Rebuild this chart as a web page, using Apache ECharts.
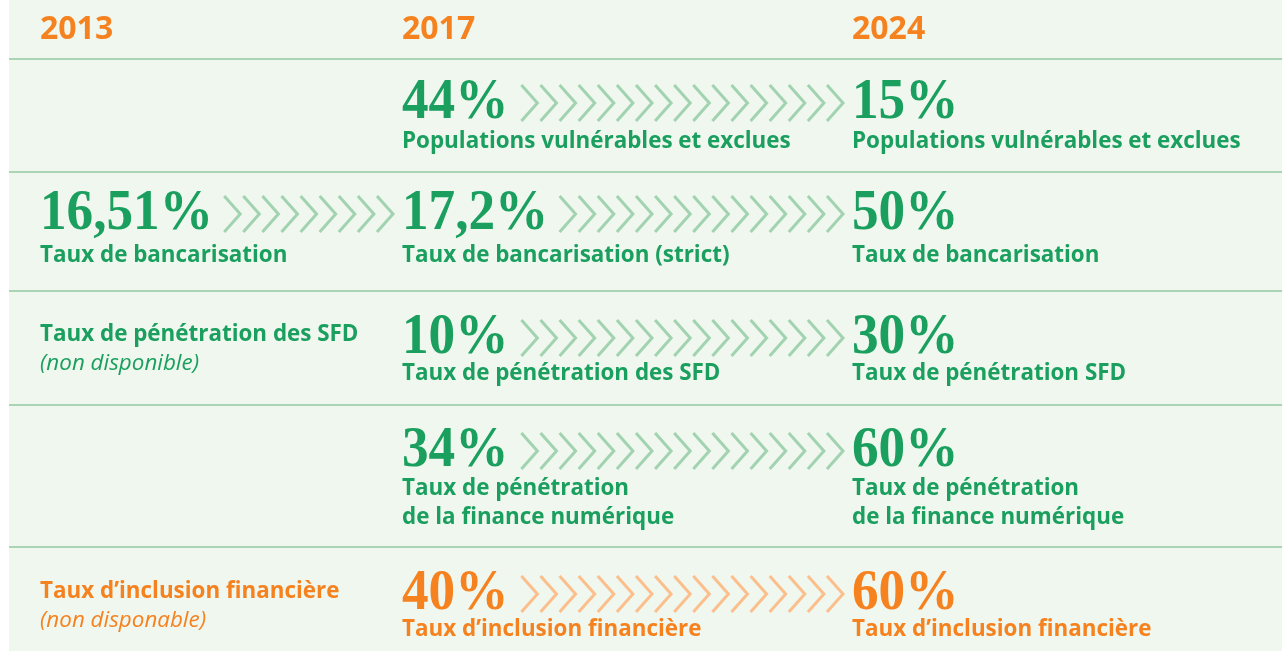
<!DOCTYPE html>
<html>
<head>
<meta charset="utf-8">
<script src="https://cdn.jsdelivr.net/npm/echarts@6/dist/echarts.min.js"></script>
<style>
html,body{margin:0;padding:0;background:#ffffff;}
#chart{width:1282px;height:653px;}
</style>
</head>
<body>
<div id="chart"></div>
<script>
// ---------- data ----------
const years = ['2013', '2017', '2024'];
const values2013 = [null, 16.51, null, null, null];
const values2017 = [44, 17.2, 10, 34, 40];
const values2024 = [15, 50, 30, 60, 60];
const labels2013 = [null, 'Taux de bancarisation', 'Taux de pénétration des SFD', null, 'Taux d’inclusion financière'];
const notes2013 = [null, null, '(non disponible)', null, '(non disponable)'];
const labels2017 = ['Populations vulnérables et exclues', 'Taux de bancarisation (strict)', 'Taux de pénétration des SFD', 'Taux de pénétration\nde la finance numérique', 'Taux d’inclusion financière'];
const labels2024 = ['Populations vulnérables et exclues', 'Taux de bancarisation', 'Taux de pénétration SFD', 'Taux de pénétration\nde la finance numérique', 'Taux d’inclusion financière'];
const rowHighlight = [false, false, false, false, true];
// arrows: [row, fromColumn, toColumn]
const arrows = [[0, 1, 2], [1, 0, 1], [1, 1, 2], [2, 1, 2], [3, 1, 2], [4, 1, 2]];

// ---------- layout ----------
const W = 1282, H = 653;
const colX = [40, 402, 852];
const headerY = 30;
const dividerY = [59, 172, 291, 405, 547];
const rowNumY = [104, 215, 339, 452, 595];
const rowLabelY = [142, 256, 374, 489, 630];
const rowOnlyY = [142, 256, 335, 489, 592];
const lineGap = 29;
const GREEN = '#1a9f5e', ORANGE = '#f5821f';
const GREEN_CH = '#a2d3b1', ORANGE_CH = '#fcbf8c';
const NUM_FONT = 'bold 56px "Liberation Serif", "DejaVu Serif", serif';
const NUM_SCALE = 0.95;
const LAB_FONT = 'bold 22.4px "Open Sans", "Noto Sans", sans-serif';
const NOTE_FONT = 'italic 22.4px "Open Sans", "Noto Sans", sans-serif';
const HEAD_FONT = 'bold 32px "Open Sans", "Noto Sans", sans-serif';

const valuesByCol = [values2013, values2017, values2024];
const labelsByCol = [labels2013, labels2017, labels2024];
function fmt(v) { return String(v).replace('.', ',') + '%'; }

const mctx = document.createElement('canvas').getContext('2d');
function numWidth(v) { mctx.font = NUM_FONT; return mctx.measureText(fmt(v)).width * NUM_SCALE; }

// cells
const cells = [];
for (let r = 0; r < values2017.length; r++) {
  for (let c = 0; c < 3; c++) {
    const v = valuesByCol[c][r];
    const l = labelsByCol[c][r];
    const n = c === 0 ? notes2013[r] : null;
    if (v == null && l == null) continue;
    cells.push({ value: [c, r], v: v, l: l, n: n });
  }
}

const chart = echarts.init(document.getElementById('chart'), null, { renderer: 'canvas' });

const option = {
  animation: false,
  backgroundColor: '#ffffff',
  grid: { left: 0, right: 0, top: 0, bottom: 0 },
  xAxis: { type: 'value', min: 0, max: W, show: false },
  yAxis: { type: 'value', min: 0, max: H, inverse: true, show: false },
  series: [
    {
      // background panel + dividers + headers
      type: 'custom',
      data: [[0, 0]],
      z: 1,
      renderItem: function (params, api) {
        const tl = api.coord([9, 0]);
        const br = api.coord([W, 651]);
        const children = [{
          type: 'rect',
          shape: { x: tl[0], y: tl[1], width: br[0] - tl[0], height: br[1] - tl[1] },
          style: { fill: '#eff7ef' }
        }];
        dividerY.forEach(function (y) {
          const a = api.coord([9, y]), b = api.coord([W, y]);
          children.push({ type: 'line', shape: { x1: a[0], y1: a[1], x2: b[0], y2: b[1] }, style: { stroke: '#a9d5b5', lineWidth: 2 } });
        });
        years.forEach(function (yr, c) {
          const p = api.coord([colX[c], headerY]);
          children.push({ type: 'text', style: { text: yr, x: p[0], y: p[1], font: HEAD_FONT, fill: ORANGE, align: 'left', verticalAlign: 'middle' } });
        });
        return { type: 'group', children: children };
      }
    },
    {
      // chevron arrows
      type: 'custom',
      data: arrows.map(function (a) { return { value: a }; }),
      z: 2,
      renderItem: function (params, api) {
        const a = arrows[params.dataIndex];
        const r = a[0], from = a[1], to = a[2];
        const v = valuesByCol[from][r];
        const start = colX[from] + numWidth(v) + 10;
        const end = colX[to] - 9;
        const step = 19.1, w = 16, h = 18;
        const n = Math.floor((end - start - w) / step) + 1;
        const color = rowHighlight[r] ? ORANGE_CH : GREEN_CH;
        const cy = rowNumY[r] - 1;
        const children = [];
        for (let k = 0; k < n; k++) {
          const ax = end - k * step;
          const p0 = api.coord([ax - w, cy - h]);
          const p1 = api.coord([ax, cy]);
          const p2 = api.coord([ax - w, cy + h]);
          children.push({ type: 'polyline', shape: { points: [p0, p1, p2] }, style: { stroke: color, lineWidth: 3, fill: null, lineJoin: 'miter' } });
        }
        return { type: 'group', children: children };
      }
    },
    {
      // value + label cells
      type: 'custom',
      data: cells,
      z: 3,
      renderItem: function (params, api) {
        const cell = cells[params.dataIndex];
        const c = cell.value[0], r = cell.value[1];
        const color = rowHighlight[r] ? ORANGE : GREEN;
        const children = [];
        let ly;
        if (cell.v != null) {
          const p = api.coord([colX[c], rowNumY[r]]);
          children.push({ type: 'text', x: p[0], y: p[1], scaleX: NUM_SCALE, style: { text: fmt(cell.v), x: 0, y: 0, font: NUM_FONT, fill: color, align: 'left', verticalAlign: 'middle' } });
          ly = rowLabelY[r];
        } else {
          ly = rowOnlyY[r];
        }
        if (cell.l != null) {
          cell.l.split('\n').forEach(function (line, i) {
            const p = api.coord([colX[c], ly + i * lineGap]);
            children.push({ type: 'text', style: { text: line, x: p[0], y: p[1], font: LAB_FONT, fill: color, align: 'left', verticalAlign: 'middle' } });
          });
        }
        if (cell.n != null) {
          const p = api.coord([colX[c], ly + lineGap]);
          children.push({ type: 'text', style: { text: cell.n, x: p[0], y: p[1], font: NOTE_FONT, fill: color, align: 'left', verticalAlign: 'middle' } });
        }
        return { type: 'group', children: children };
      }
    }
  ]
};
chart.setOption(option);
</script>
</body>
</html>
